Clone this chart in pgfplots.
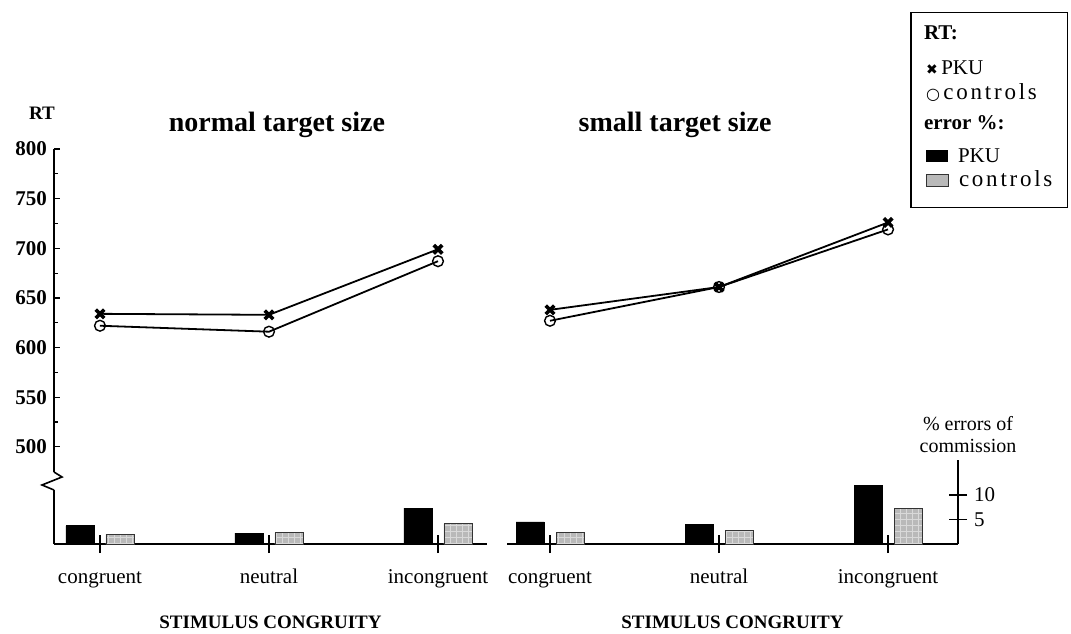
\documentclass[border=0pt]{standalone}
\usepackage{fontspec}
\setmainfont{Liberation Serif}
\newfontfamily\sym{DejaVu Sans}
\usepackage{pgfplots}
\usepackage{pgfplotstable}
\pgfplotsset{compat=1.18}
\usetikzlibrary{patterns}

\pgfplotstableread{
x pku ctl
0 634 622
1 633 616
2 699 687
}\leftrt
\pgfplotstableread{
x pku ctl
0 638 627
1 661 661
2 726 719
}\rightrt
\pgfplotstableread{
x pku ctl
0 3.7 2.0
1 2.2 2.3
2 7.3 4.1
}\lefterr
\pgfplotstableread{
x pku ctl
0 4.5 2.4
1 4.0 2.8
2 12.0 7.3
}\righterr

\tikzset{
  pku/.style={fill=black, draw=black},
  ctl/.style={fill=gray!55, draw=black!80, postaction={pattern=grid, pattern color=white!70!gray}},
  pkuline/.style={line width=0.9pt, mark=x, mark size=3pt, mark options={line width=1.8pt}},
  ctlline/.style={line width=0.9pt, mark=o, mark size=2.7pt, mark options={fill=white, line width=0.7pt}},
}

\pgfplotsset{
  base/.style={scale only axis, clip=false, anchor=south west,
    /pgf/number format/assume math mode=true,
    axis line style={-, line width=0.8pt}, tick style={line width=0.6pt, black}},
  rtaxis/.style={base, ymin=474.7, ymax=800, height=161.5pt},
  lefttx/.style={xmin=-0.272, xmax=2.290, width=216.5pt},
  righttx/.style={xmin=-0.2544, xmax=2.414, width=225.5pt},
  bars/.style={base, ybar, bar width=14pt, ymin=0, xtick={0,1,2},
    xticklabels={congruent,neutral,incongruent}, axis x line*=bottom,
    tick align=center, major tick length=9pt,
    xticklabel style={font=\fontsize{10.5}{12}\selectfont, anchor=base, yshift=-15pt}},
}

\newcommand\ctlbox{{\setlength\fboxsep{0pt}\setlength\fboxrule{0.5pt}\raisebox{0.5pt}{\fcolorbox{black!80}{gray!55}{\rule{0pt}{5.5pt}\rule{10.5pt}{0pt}}}}}
\newcommand\spaced[1]{{\fontsize{11.5}{11}\selectfont\addfontfeature{LetterSpace=12}#1}}

\begin{document}
\begin{tikzpicture}
\path[use as bounding box] (0,0) rectangle (535.5pt,316.5pt);

% left panel, RT
\begin{axis}[rtaxis, lefttx, at={(27pt,80.5pt)}, axis y line*=left, axis x line=none,
  ytick={500,550,...,800}, minor y tick num=1, tick align=inside,
  major tick length=3pt, minor tick length=2pt,
  yticklabel style={font=\bfseries\fontsize{10.5}{12}\selectfont}]
\addplot[pkuline] table[x=x,y=pku] \leftrt;
\addplot[ctlline] table[x=x,y=ctl] \leftrt;
\node[font=\bfseries\fontsize{9.5}{11}\selectfont, xshift=-6pt, yshift=18pt] at (rel axis cs:0,1) {RT};
\node[font=\bfseries\fontsize{14}{16}\selectfont, yshift=12pt] at (axis cs:1.047,800) {normal target size};
\end{axis}

% left panel, errors
\begin{axis}[bars, lefttx, at={(27pt,44.5pt)}, height=27pt, ymax=11.0,
  axis y line*=left, ytick=\empty]
\addplot[pku, bar shift=-10pt] table[x=x,y=pku] \lefterr;
\addplot[ctl, bar shift=10pt] table[x=x,y=ctl] \lefterr;
\draw[line width=0.8pt] (rel axis cs:0,1.333) -- (rel axis cs:0.0185,1.241)
  -- (rel axis cs:-0.0277,1.0926) -- (rel axis cs:0,1);
\node[font=\bfseries\fontsize{9.5}{11}\selectfont, yshift=-39pt] at (rel axis cs:0.5,0) {STIMULUS CONGRUITY};
\end{axis}

% right panel, errors
\begin{axis}[bars, righttx, at={(253.5pt,44.5pt)}, height=42pt, ymax=17.14,
  axis y line*=right, ytick={5,10},
  yticklabel style={font=\fontsize{10.5}{12}\selectfont}]
\addplot[pku, bar shift=-10pt] table[x=x,y=pku] \righterr;
\addplot[ctl, bar shift=10pt] table[x=x,y=ctl] \righterr;
\node[align=center, font=\fontsize{10}{11}\selectfont, xshift=5pt, yshift=12.5pt] at (rel axis cs:1,1) {\% errors of\\commission};
\node[font=\bfseries\fontsize{9.5}{11}\selectfont, yshift=-39pt] at (rel axis cs:0.5,0) {STIMULUS CONGRUITY};
\end{axis}

% right panel, RT (with the key)
\begin{axis}[rtaxis, righttx, at={(253.5pt,80.5pt)}, hide axis]
\addplot[pkuline] table[x=x,y=pku] \rightrt;
\addplot[ctlline] table[x=x,y=ctl] \rightrt;
\node[font=\bfseries\fontsize{14}{16}\selectfont, yshift=12pt] at (axis cs:0.74,800) {small target size};
\node[draw, line width=0.6pt, anchor=north east, inner xsep=7.5pt, inner ysep=5.8pt,
  align=left, font=\fontsize{10.5}{11}\selectfont]
  at (axis description cs:1.244,1.424) {%
\hspace*{-1pt}\rule{0pt}{7.7pt}\textbf{RT:}\\[6.5pt]
{\sym\fontsize{7}{8}\selectfont ✖}\,PKU\\[1.5pt]
{\sym\fontsize{8}{8}\selectfont ○}\,\spaced{controls}\hspace*{11pt}\\[4pt]
\hspace*{-1pt}\textbf{error \%:}\\[5.5pt]
\raisebox{0.5pt}{\rule{11pt}{6pt}}\hspace{5pt}PKU\\[1pt]
\ctlbox\hspace{5pt}\spaced{controls}\rule[-4.7pt]{0pt}{1pt}};
\end{axis}
\end{tikzpicture}
\end{document}
